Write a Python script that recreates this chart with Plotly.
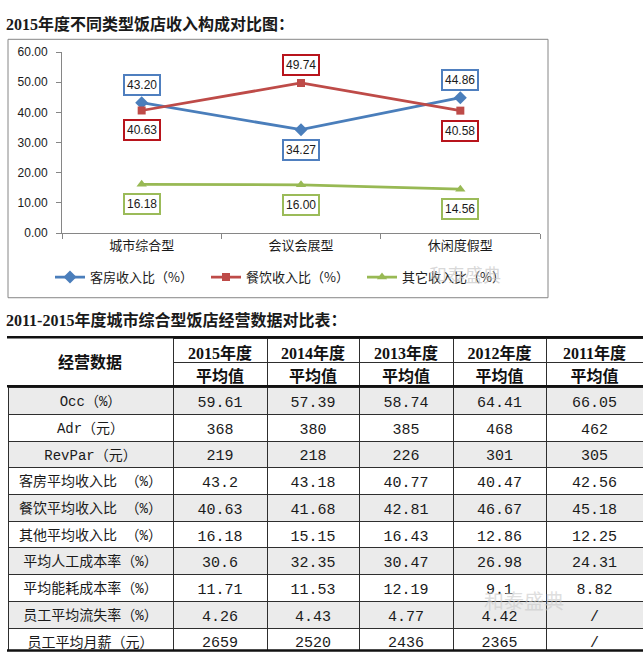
import plotly.graph_objects as go

W, H = 643, 662


def px(x):
    return x / W


def py(y):
    return 1 - y / H


# ---------------- data: line chart ----------------
categories = ["城市综合型", "会议会展型", "休闲度假型"]
room_ratio = [43.20, 34.27, 44.86]
fb_ratio = [40.63, 49.74, 40.58]
other_ratio = [16.18, 16.00, 14.56]
series_names = ["客房收入比（%）", "餐饮收入比（%）", "其它收入比（%）"]
y_ticks = [0, 10, 20, 30, 40, 50, 60]

# ---------------- data: table ----------------
table_years = ["2015年度", "2014年度", "2013年度", "2012年度", "2011年度"]
sub_header = "平均值"
first_header = "经营数据"
row_labels = ["Occ（%）", "Adr（元）", "RevPar（元）", "客房平均收入比\u00a0（%）",
              "餐饮平均收入比\u00a0（%）", "其他平均收入比\u00a0（%）", "平均人工成本率（%）",
              "平均能耗成本率（%）", "员工平均流失率（%）", "员工平均月薪（元）"]
v2015 = ["59.61", "368", "219", "43.2", "40.63", "16.18", "30.6", "11.71", "4.26", "2659"]
v2014 = ["57.39", "380", "218", "43.18", "41.68", "15.15", "32.35", "11.53", "4.43", "2520"]
v2013 = ["58.74", "385", "226", "40.77", "42.81", "16.43", "30.47", "12.19", "4.77", "2436"]
v2012 = ["64.41", "468", "301", "40.47", "46.67", "12.86", "26.98", "9.1", "4.42", "2365"]
v2011 = ["66.05", "462", "305", "42.56", "45.18", "12.25", "24.31", "8.82", "/", "/"]

title1 = "2015年度不同类型饭店收入构成对比图："
title2 = "2011-2015年度城市综合型饭店经营数据对比表："
watermark = "和泰盛典"

# ---------------- styles ----------------
BLUE, RED, GREEN = "#4a7ebb", "#be4b48", "#98b954"
BLUE_BOX, RED_BOX, GREEN_BOX = "#4f7fbf", "#b8141c", "#9bbb59"
AXIS_C = "#868686"
CJK = "Noto Sans CJK SC"
SERIF = "Liberation Serif, Noto Sans CJK SC"
MONO = "Liberation Mono, Noto Sans CJK SC"
CLEAR = "rgba(0,0,0,0)"

fig = go.Figure()

series = [
    (series_names[0], room_ratio, BLUE, "diamond", 10),
    (series_names[1], fb_ratio, RED, "square", 8),
    (series_names[2], other_ratio, GREEN, "triangle-up", 9),
]
for name, vals, col, sym, size in series:
    fig.add_trace(go.Scatter(
        x=categories, y=vals, name=name, mode="lines+markers",
        line=dict(color=col, width=2.75),
        marker=dict(symbol=sym, size=size, color=col),
        xaxis="x", yaxis="y", hoverinfo="skip",
    ))

# data labels in boxes
annotations = []
for i, c in enumerate(categories):
    room_above = room_ratio[i] >= fb_ratio[i]
    for vals, box, above in ((room_ratio, BLUE_BOX, room_above),
                             (fb_ratio, RED_BOX, not room_above),
                             (other_ratio, GREEN_BOX, False)):
        annotations.append(dict(
            x=c, y=vals[i], xref="x", yref="y", text=f"{vals[i]:.2f}",
            showarrow=False, yshift=18 if above else -20,
            bordercolor=box, borderwidth=2, borderpad=2, bgcolor="white",
            font=dict(family="Liberation Sans, Arial", size=12, color="#1a1a1a"),
        ))

# titles
for t, yy in ((title1, 17), (title2, 320)):
    annotations.append(dict(
        x=px(4), y=py(yy), xref="paper", yref="paper", xanchor="left", yanchor="middle",
        text=t, showarrow=False,
        font=dict(family=SERIF, size=16, color="#1a1a1a", weight="bold"),
    ))

# watermarks
annotations.append(dict(x=px(503), y=py(273), xref="paper", yref="paper", text=watermark,
                        showarrow=False, font=dict(family=CJK, size=18, color="rgba(190,190,190,0.6)")))
annotations.append(dict(x=px(566), y=py(623), xref="paper", yref="paper", text=watermark,
                        showarrow=False, font=dict(family=CJK, size=20, color="rgba(200,200,200,0.6)")))

# ---------------- table ----------------
col_w = [165, 94, 92, 94, 93, 97]
LINE_C = "#2e2e2e"
GRAY = "#ebebeb"
head_font = dict(family=SERIF, size=16, color="#111111", weight="bold")
body_font = dict(family=MONO, size=[14, 15, 15, 15, 15, 15], color="#1a1a1a")

# year headers + 平均值 (columns 2..6)
fig.add_trace(go.Table(
    domain=dict(x=[px(173), 1.0], y=[py(389), py(339)]),
    columnwidth=col_w[1:],
    header=dict(values=table_years, height=23.5, fill_color="white",
                line=dict(color=LINE_C, width=1), font=head_font, align="center"),
    cells=dict(values=[[sub_header] for _ in table_years], height=23.5,
               fill_color="white", line=dict(color=LINE_C, width=1), font=head_font, align="center"),
))

# body
columns = [row_labels, v2015, v2014, v2013, v2012, v2011]
n = len(row_labels)
row_fill = [GRAY if i % 2 == 0 else "white" for i in range(n)]
fig.add_trace(go.Table(
    domain=dict(x=[px(8), 1.0], y=[py(658), py(389)]),
    columnwidth=col_w,
    header=dict(values=[col[0] for col in columns], height=26.7, fill_color=row_fill[0],
                line=dict(color=LINE_C, width=1), font=body_font, align="center"),
    cells=dict(values=[col[1:] for col in columns], height=26.7,
               fill_color=[row_fill[1:]] * len(columns),
               line=dict(color=LINE_C, width=1), font=body_font, align="center"),
))

# merged first header cell (transparent, text only)
fig.add_trace(go.Table(
    domain=dict(x=[px(8), px(173)], y=[py(383), py(348)]),
    columnwidth=[1],
    header=dict(values=[first_header], height=30, fill_color=CLEAR,
                line=dict(color=CLEAR, width=0), font=head_font, align="center"),
    cells=dict(values=[[""]], height=2, fill_color=CLEAR, line=dict(color=CLEAR, width=0)),
))

shapes = [
    dict(type="rect", xref="paper", yref="paper", x0=px(8), x1=px(548), y0=py(297), y1=py(33),
         line=dict(color=AXIS_C, width=1), fillcolor=CLEAR, layer="below"),
]
for yy in (337.5, 387.5, 657.5):
    shapes.append(dict(type="line", xref="paper", yref="paper", x0=px(7), x1=1.0,
                       y0=py(yy), y1=py(yy), line=dict(color="#111111", width=2.5)))

fig.update_layout(
    width=W, height=H, margin=dict(l=0, r=0, t=0, b=0),
    paper_bgcolor="white", plot_bgcolor="white",
    xaxis=dict(domain=[px(62), px(540)], type="category", range=[-0.5, 2.5],
               tickson="boundaries", ticks="outside", ticklen=5, tickcolor=AXIS_C,
               showline=True, linecolor=AXIS_C, linewidth=1, showgrid=False,
               tickfont=dict(family=CJK, size=13, color="#1a1a1a"), anchor="y"),
    yaxis=dict(domain=[py(231), py(46)], range=[0, 60], tickvals=y_ticks, tickformat=".2f",
               ticks="outside", ticklen=5, tickcolor=AXIS_C, showline=True, linecolor=AXIS_C,
               linewidth=1, showgrid=False, zeroline=False, ticklabelstandoff=6,
               tickfont=dict(family="Liberation Sans, Arial", size=12, color="#1a1a1a"), anchor="x"),
    legend=dict(orientation="h", x=px(50), y=py(276), xanchor="left", yanchor="middle",
                entrywidth=111, entrywidthmode="pixels", bgcolor=CLEAR,
                font=dict(family=CJK, size=13, color="#1a1a1a")),
    annotations=annotations,
    shapes=shapes,
    showlegend=True,
)

fig.write_html("out.html", config={"displayModeBar": False},
               post_script="document.body.style.margin='0px';")
